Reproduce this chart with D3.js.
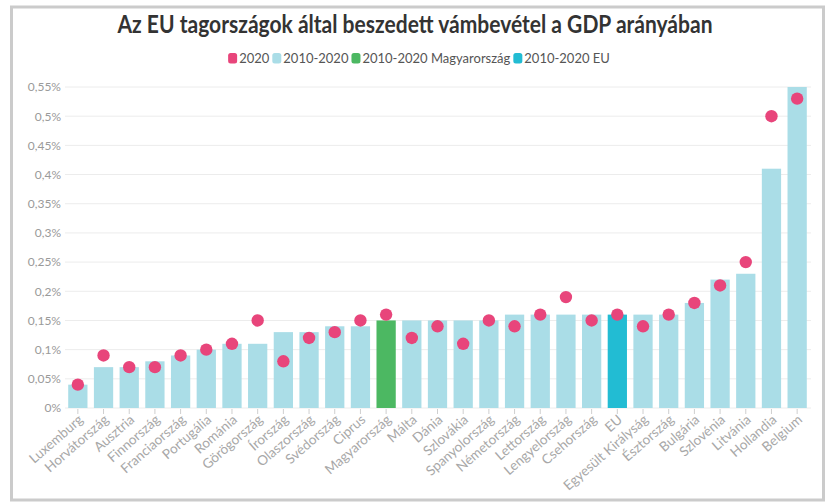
<!DOCTYPE html>
<html><head><meta charset="utf-8">
<script src="https://cdn.jsdelivr.net/npm/d3@7"></script>
<style>
body{margin:0;background:#fff}
svg{display:block}
text{font-family:Lato,"Noto Sans",sans-serif}
</style>
</head><body>
<svg id="c" width="830" height="502"></svg>
<script>
const title = "Az EU tagországok által beszedett vámbevétel a GDP arányában";
const categories = ["Luxemburg","Horvátország","Ausztria","Finnország","Franciaország","Portugália","Románia","Görögország","Írország","Olaszország","Svédország","Ciprus","Magyarország","Málta","Dánia","Szlovákia","Spanyolország","Németország","Lettország","Lengyelország","Csehország","EU","Egyesült Királyság","Észtország","Bulgária","Szlovénia","Litvánia","Hollandia","Belgium"];
const avg2010_2020 = [0.04,0.07,0.07,0.08,0.09,0.10,0.11,0.11,0.13,0.13,0.14,0.14,0.15,0.15,0.15,0.15,0.15,0.16,0.16,0.16,0.16,0.16,0.16,0.16,0.18,0.22,0.23,0.41,0.55];
const val2020 = [0.04,0.09,0.07,0.07,0.09,0.10,0.11,0.15,0.08,0.12,0.13,0.15,0.16,0.12,0.14,0.11,0.15,0.14,0.16,0.19,0.15,0.16,0.14,0.16,0.18,0.21,0.25,0.50,0.53];
const yTicks = [0,0.05,0.10,0.15,0.20,0.25,0.30,0.35,0.40,0.45,0.50,0.55];
const yTickLabels = ["0%","0,05%","0,1%","0,15%","0,2%","0,25%","0,3%","0,35%","0,4%","0,45%","0,5%","0,55%"];
const legendLabels = ["2020","2010-2020","2010-2020 Magyarország","2010-2020 EU"];
const legendColors = ["#e8457b","#aadde7","#4cb862","#22bcd3"];

const svg = d3.select("#c");
const x = d3.scaleBand().domain(categories).range([65,810]).paddingInner(0.25).paddingOuter(0.125);
const y = d3.scaleLinear().domain([0,0.55]).range([408,87]);

function barColor(c){ return c==="Magyarország" ? legendColors[2] : c==="EU" ? legendColors[3] : legendColors[1]; }

// frame
svg.append("rect").attr("x",11.5).attr("y",7).attr("width",812).attr("height",493)
  .attr("fill","none").attr("stroke","#cbcbcb").attr("stroke-width",3);

// title
const t = svg.append("text").attr("x",415).attr("y",33).attr("text-anchor","middle")
  .attr("font-size",24).attr("font-weight",700).attr("fill","#333").text(title);
const tl = t.node().getComputedTextLength();
if (tl > 595) t.attr("textLength",595).attr("lengthAdjust","spacingAndGlyphs");

// legend
const lg = svg.append("g");
let lx = 0;
legendLabels.forEach((lab,i)=>{
  lg.append("rect").attr("x",lx).attr("y",53).attr("width",9).attr("height",10.5).attr("rx",2.5)
    .attr("fill",legendColors[i]);
  const tx = lg.append("text").attr("x",lx+11).attr("y",62.5).attr("font-size",13).attr("fill","#555").text(lab);
  lx += 11 + tx.node().getComputedTextLength() + 3;
});
const lw = lx - 3;
lg.attr("transform",`translate(${419 - lw/2},0)`);

// gridlines
svg.append("g").selectAll("line").data(yTicks).join("line")
  .attr("x1",65).attr("x2",811).attr("y1",d=>y(d)).attr("y2",d=>y(d))
  .attr("stroke","#ececec").attr("stroke-width",1);

// y axis
const ya = svg.append("g").attr("transform","translate(64,0)")
  .call(d3.axisLeft(y).tickValues(yTicks).tickFormat((d,i)=>yTickLabels[i]).tickSize(0).tickPadding(3));
ya.select(".domain").remove();
ya.selectAll("text").attr("font-size",12).attr("fill","#9a9a9a").style("font-family","Lato");

// bars
svg.append("g").selectAll("rect").data(categories).join("rect")
  .attr("x",d=>x(d)).attr("width",x.bandwidth())
  .attr("y",(d,i)=>y(avg2010_2020[i])).attr("height",(d,i)=>y(0)-y(avg2010_2020[i]))
  .attr("fill",d=>barColor(d));

// dots
svg.append("g").selectAll("circle").data(categories).join("circle")
  .attr("cx",d=>x(d)+x.bandwidth()/2).attr("cy",(d,i)=>y(val2020[i])).attr("r",6.2)
  .attr("fill",legendColors[0]);

// x axis
const xa = svg.append("g").attr("transform","translate(0,409)")
  .call(d3.axisBottom(x).tickSize(5).tickSizeOuter(0));
xa.select(".domain").remove();
xa.selectAll(".tick line").attr("stroke","#cfcfcf");
xa.selectAll("text").attr("font-size",13.5).attr("fill","#a8a8a8").style("font-family","Lato")
  .attr("text-anchor","end").attr("y",0).attr("dy",0)
  .attr("transform","translate(6,12) rotate(-41)");
</script>
</body></html>
